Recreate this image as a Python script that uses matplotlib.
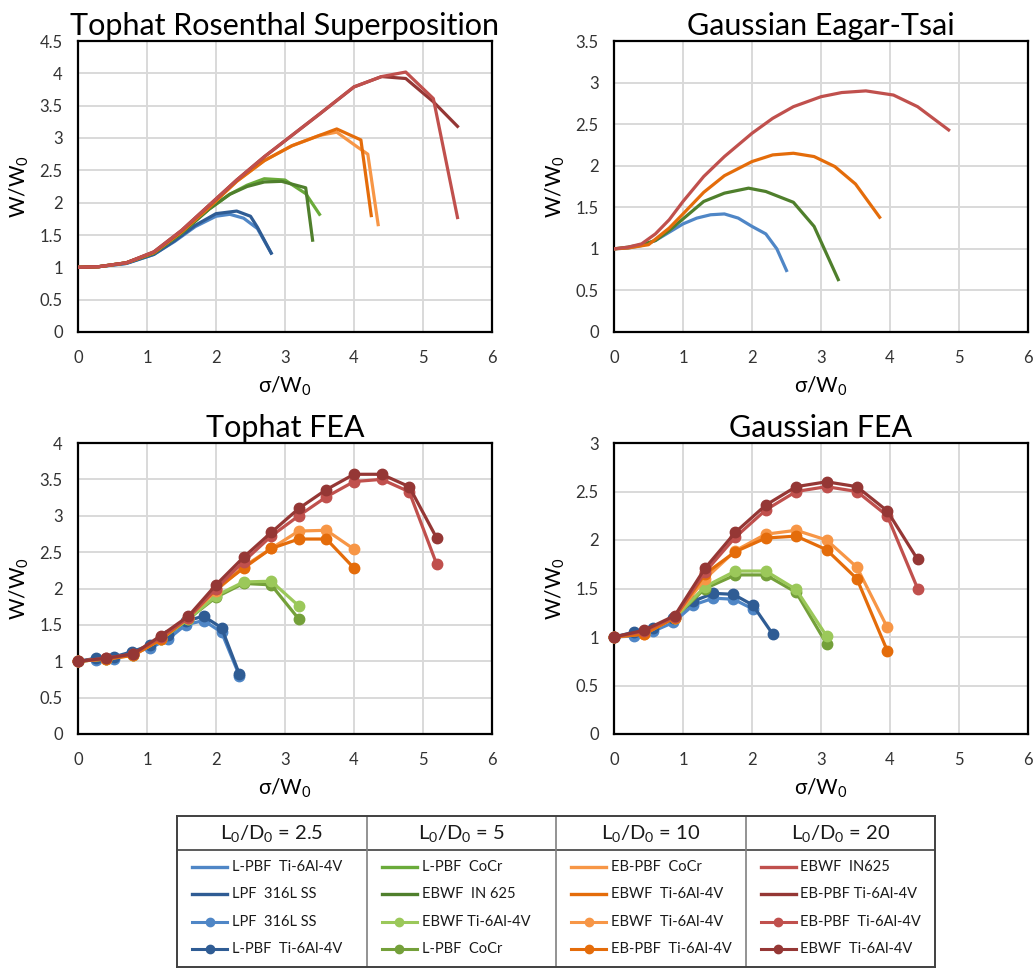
import numpy as np
import matplotlib
matplotlib.use('Agg')
import matplotlib.pyplot as plt
from matplotlib.ticker import MultipleLocator, FuncFormatter

plt.rcParams['font.family'] = ['Lato', 'DejaVu Sans']
plt.rcParams['mathtext.fontset'] = 'custom'
plt.rcParams['mathtext.rm'] = 'Lato'
plt.rcParams['mathtext.it'] = 'Lato'
plt.rcParams['mathtext.default'] = 'regular'

# %%
# colours (light / dark variant per L0/D0 group)
BLUE_L, BLUE_D = '#4F86C6', '#2F5C94'
GREEN_L, GREEN_D = '#6AAB3A', '#4F7F2C'
GREEN_LM, GREEN_DM = '#9BC85A', '#74A03A'
ORANGE_L, ORANGE_D = '#F79646', '#E46C0A'
RED_L, RED_D = '#C0504D', '#953735'

# %%
# Tophat Rosenthal Superposition (lines only)
tr_blue_l_x = [0, 0.3, 0.7, 1.1, 1.4, 1.7, 2.0, 2.2, 2.4, 2.6, 2.8]
tr_blue_l_y = [1.0, 1.01, 1.06, 1.2, 1.4, 1.63, 1.79, 1.82, 1.76, 1.6, 1.22]
tr_blue_d_x = [0, 0.3, 0.7, 1.1, 1.4, 1.7, 2.0, 2.3, 2.5, 2.6, 2.8]
tr_blue_d_y = [1.0, 1.01, 1.06, 1.2, 1.41, 1.65, 1.83, 1.87, 1.79, 1.62, 1.22]
tr_green_l_x = [0, 0.3, 0.7, 1.1, 1.5, 1.9, 2.2, 2.45, 2.7, 3.0, 3.3, 3.5]
tr_green_l_y = [1.0, 1.01, 1.07, 1.22, 1.53, 1.9, 2.13, 2.27, 2.37, 2.35, 2.14, 1.82]
tr_green_d_x = [0, 0.3, 0.7, 1.1, 1.5, 1.9, 2.2, 2.45, 2.7, 2.95, 3.3, 3.4]
tr_green_d_y = [1.0, 1.01, 1.07, 1.22, 1.53, 1.9, 2.13, 2.25, 2.32, 2.33, 2.23, 1.42]
tr_orange_l_x = [0, 0.3, 0.7, 1.1, 1.5, 1.9, 2.3, 2.7, 3.1, 3.5, 3.75, 4.05, 4.2, 4.35]
tr_orange_l_y = [1.0, 1.01, 1.07, 1.23, 1.55, 1.93, 2.33, 2.65, 2.88, 3.04, 3.09, 2.86, 2.75, 1.66]
tr_orange_d_x = [0, 0.3, 0.7, 1.1, 1.5, 1.9, 2.3, 2.7, 3.1, 3.5, 3.75, 4.1, 4.25]
tr_orange_d_y = [1.0, 1.01, 1.07, 1.23, 1.55, 1.93, 2.33, 2.65, 2.88, 3.04, 3.14, 2.97, 1.8]
tr_red_l_x = [0, 0.3, 0.7, 1.1, 1.5, 1.9, 2.3, 2.7, 3.1, 3.5, 4.0, 4.4, 4.75, 5.15, 5.5]
tr_red_l_y = [1.0, 1.01, 1.07, 1.24, 1.57, 1.96, 2.35, 2.71, 3.04, 3.37, 3.79, 3.95, 4.02, 3.61, 1.77]
tr_red_d_x = [0, 0.3, 0.7, 1.1, 1.5, 1.9, 2.3, 2.7, 3.1, 3.5, 4.0, 4.4, 4.75, 5.15, 5.5]
tr_red_d_y = [1.0, 1.01, 1.07, 1.24, 1.57, 1.96, 2.35, 2.71, 3.04, 3.37, 3.79, 3.95, 3.92, 3.56, 3.18]

# Gaussian Eagar-Tsai (lines only)
ge_blue_x = [0, 0.2, 0.4, 0.6, 0.8, 1.0, 1.2, 1.4, 1.6, 1.8, 2.0, 2.2, 2.36, 2.5]
ge_blue_y = [1.0, 1.01, 1.04, 1.1, 1.2, 1.3, 1.37, 1.41, 1.42, 1.37, 1.27, 1.18, 1.0, 0.74]
ge_green_x = [0, 0.2, 0.4, 0.6, 0.8, 1.0, 1.3, 1.6, 1.95, 2.2, 2.6, 2.9, 3.25]
ge_green_y = [1.0, 1.02, 1.05, 1.1, 1.22, 1.36, 1.57, 1.67, 1.73, 1.69, 1.56, 1.27, 0.63]
ge_orange_x = [0, 0.2, 0.5, 0.8, 1.0, 1.3, 1.6, 2.0, 2.3, 2.6, 2.9, 3.2, 3.5, 3.85]
ge_orange_y = [1.0, 1.01, 1.05, 1.25, 1.42, 1.68, 1.88, 2.05, 2.13, 2.15, 2.11, 1.99, 1.78, 1.38]
ge_red_x = [0, 0.2, 0.4, 0.6, 0.8, 1.0, 1.3, 1.6, 2.0, 2.3, 2.6, 3.0, 3.3, 3.65, 4.05, 4.4, 4.85]
ge_red_y = [1.0, 1.02, 1.06, 1.18, 1.35, 1.57, 1.87, 2.11, 2.39, 2.57, 2.71, 2.83, 2.88, 2.9, 2.85, 2.71, 2.43]

# Tophat FEA (markers)
tf_blue_x = [0, 0.26, 0.52, 0.78, 1.04, 1.3, 1.56, 1.82, 2.08, 2.34]
tf_blue_l_y = [1.0, 1.02, 1.03, 1.12, 1.18, 1.3, 1.5, 1.56, 1.4, 0.8]
tf_blue_d_y = [1.0, 1.04, 1.06, 1.13, 1.22, 1.36, 1.55, 1.62, 1.46, 0.82]
tf_green_x = [0, 0.4, 0.8, 1.2, 1.6, 2.0, 2.4, 2.8, 3.2]
tf_green_l_y = [1.0, 1.03, 1.09, 1.3, 1.58, 1.9, 2.09, 2.1, 1.76]
tf_green_d_y = [1.0, 1.03, 1.09, 1.3, 1.58, 1.88, 2.07, 2.05, 1.58]
tf_orange_x = [0, 0.4, 0.8, 1.2, 1.6, 2.0, 2.4, 2.8, 3.2, 3.6, 4.0]
tf_orange_l_y = [1.0, 1.03, 1.08, 1.3, 1.6, 1.97, 2.3, 2.55, 2.79, 2.8, 2.54]
tf_orange_d_y = [1.0, 1.03, 1.08, 1.3, 1.6, 1.99, 2.28, 2.55, 2.68, 2.68, 2.28]
tf_red_x = [0, 0.4, 0.8, 1.2, 1.6, 2.0, 2.4, 2.8, 3.2, 3.6, 4.0, 4.4, 4.8, 5.2]
tf_red_l_y = [1.0, 1.04, 1.1, 1.33, 1.6, 2.0, 2.37, 2.72, 3.0, 3.26, 3.47, 3.5, 3.33, 2.33]
tf_red_d_y = [1.0, 1.04, 1.1, 1.35, 1.62, 2.05, 2.43, 2.77, 3.1, 3.36, 3.57, 3.57, 3.4, 2.69]

# Gaussian FEA (markers)
gf_blue_l_x = [0, 0.29, 0.57, 0.86, 1.15, 1.44, 1.73, 2.01]
gf_blue_l_y = [1.0, 1.01, 1.06, 1.15, 1.33, 1.4, 1.39, 1.29]
gf_blue_d_x = [0, 0.29, 0.57, 0.86, 1.15, 1.44, 1.73, 2.01, 2.3]
gf_blue_d_y = [1.0, 1.05, 1.09, 1.2, 1.37, 1.45, 1.44, 1.33, 1.03]
gf_green_x = [0, 0.44, 0.88, 1.32, 1.76, 2.2, 2.64, 3.08]
gf_green_l_y = [1.0, 1.05, 1.2, 1.52, 1.68, 1.68, 1.49, 1.01]
gf_green_d_y = [1.0, 1.05, 1.2, 1.5, 1.64, 1.64, 1.46, 0.93]
gf_orange_x = [0, 0.44, 0.88, 1.32, 1.76, 2.2, 2.64, 3.08, 3.52, 3.96]
gf_orange_l_y = [1.0, 1.03, 1.2, 1.6, 1.89, 2.06, 2.1, 2.0, 1.72, 1.1]
gf_orange_d_y = [1.0, 1.03, 1.2, 1.65, 1.88, 2.02, 2.04, 1.9, 1.6, 0.86]
gf_red_x = [0, 0.44, 0.88, 1.32, 1.76, 2.2, 2.64, 3.08, 3.52, 3.96, 4.4]
gf_red_l_y = [1.0, 1.06, 1.21, 1.67, 2.03, 2.31, 2.5, 2.55, 2.5, 2.25, 1.5]
gf_red_d_y = [1.0, 1.07, 1.22, 1.71, 2.08, 2.36, 2.55, 2.6, 2.55, 2.3, 1.8]

# legend table
headers = ['L$_0$/D$_0$ = 2.5', 'L$_0$/D$_0$ = 5', 'L$_0$/D$_0$ = 10', 'L$_0$/D$_0$ = 20']
legend_labels = [
    ['L-PBF  Ti-6Al-4V', 'LPF  316L SS', 'LPF  316L SS', 'L-PBF  Ti-6Al-4V'],
    ['L-PBF  CoCr', 'EBWF  IN 625', 'EBWF Ti-6Al-4V', 'L-PBF  CoCr'],
    ['EB-PBF  CoCr', 'EBWF  Ti-6Al-4V', 'EBWF  Ti-6Al-4V', 'EB-PBF  Ti-6Al-4V'],
    ['EBWF  IN625', 'EB-PBF Ti-6Al-4V', 'EB-PBF  Ti-6Al-4V', 'EBWF  Ti-6Al-4V'],
]
legend_colors = [
    [BLUE_L, BLUE_D, BLUE_L, BLUE_D],
    [GREEN_L, GREEN_D, GREEN_LM, GREEN_DM],
    [ORANGE_L, ORANGE_D, ORANGE_L, ORANGE_D],
    [RED_L, RED_D, RED_L, RED_D],
]
legend_marker = [False, False, True, True]

# %%
W, H = 1034, 969
fig = plt.figure(figsize=(W / 100, H / 100), dpi=100)

def make_axes(left, top, ymax, title):
    ax = fig.add_axes([left / W, 1 - (top + 291) / H, 414 / W, 291 / H])
    ax.set_xlim(0, 6)
    ax.set_ylim(0, ymax)
    ax.xaxis.set_major_locator(MultipleLocator(1))
    ax.yaxis.set_major_locator(MultipleLocator(0.5))
    ax.yaxis.set_major_formatter(FuncFormatter(lambda v, p: f'{v:g}'))
    ax.xaxis.set_major_formatter(FuncFormatter(lambda v, p: f'{v:g}'))
    ax.grid(True, color='#D9D9D9', lw=1.4)
    ax.set_axisbelow(True)
    ax.tick_params(length=0, labelsize=12, colors='#333333')
    ax.tick_params(axis='x', pad=13)
    ax.tick_params(axis='y', pad=11)
    for s in ax.spines.values():
        s.set_linewidth(1.6)
        s.set_color('black')
        s.set_zorder(1)
    ax.set_title(title, fontsize=22, pad=4)
    ax.set_xlabel('σ/W$_0$', fontsize=15, labelpad=6)
    ax.set_ylabel('W/W$_0$', fontsize=15, labelpad=6)
    return ax

LW = 2.3
MS = 7.5
mk = dict(lw=LW, marker='o', ms=MS, clip_on=False, zorder=3)

ax1 = make_axes(78, 41, 4.5, 'Tophat Rosenthal Superposition')
ax1.plot(tr_blue_l_x, tr_blue_l_y, color=BLUE_L, lw=LW)
ax1.plot(tr_blue_d_x, tr_blue_d_y, color=BLUE_D, lw=LW)
ax1.plot(tr_green_l_x, tr_green_l_y, color=GREEN_L, lw=LW)
ax1.plot(tr_green_d_x, tr_green_d_y, color=GREEN_D, lw=LW)
ax1.plot(tr_orange_l_x, tr_orange_l_y, color=ORANGE_L, lw=LW)
ax1.plot(tr_orange_d_x, tr_orange_d_y, color=ORANGE_D, lw=LW)
ax1.plot(tr_red_d_x, tr_red_d_y, color=RED_D, lw=LW)
ax1.plot(tr_red_l_x, tr_red_l_y, color=RED_L, lw=LW)

ax2 = make_axes(614, 41, 3.5, 'Gaussian Eagar-Tsai')
ax2.plot(ge_blue_x, ge_blue_y, color=BLUE_L, lw=LW)
ax2.plot(ge_green_x, ge_green_y, color=GREEN_D, lw=LW)
ax2.plot(ge_orange_x, ge_orange_y, color=ORANGE_D, lw=LW)
ax2.plot(ge_red_x, ge_red_y, color=RED_L, lw=LW)

ax3 = make_axes(78, 443, 4, 'Tophat FEA')
ax3.plot(tf_blue_x, tf_blue_l_y, color=BLUE_L, **mk)
ax3.plot(tf_blue_x, tf_blue_d_y, color=BLUE_D, **mk)
ax3.plot(tf_green_x, tf_green_d_y, color=GREEN_DM, **mk)
ax3.plot(tf_green_x, tf_green_l_y, color=GREEN_LM, **mk)
ax3.plot(tf_orange_x, tf_orange_l_y, color=ORANGE_L, **mk)
ax3.plot(tf_orange_x, tf_orange_d_y, color=ORANGE_D, **mk)
ax3.plot(tf_red_x, tf_red_l_y, color=RED_L, **mk)
ax3.plot(tf_red_x, tf_red_d_y, color=RED_D, **mk)

ax4 = make_axes(614, 443, 3, 'Gaussian FEA')
ax4.plot(gf_blue_l_x, gf_blue_l_y, color=BLUE_L, **mk)
ax4.plot(gf_blue_d_x, gf_blue_d_y, color=BLUE_D, **mk)
ax4.plot(gf_green_x, gf_green_d_y, color=GREEN_DM, **mk)
ax4.plot(gf_green_x, gf_green_l_y, color=GREEN_LM, **mk)
ax4.plot(gf_orange_x, gf_orange_l_y, color=ORANGE_L, **mk)
ax4.plot(gf_orange_x, gf_orange_d_y, color=ORANGE_D, **mk)
ax4.plot(gf_red_x, gf_red_l_y, color=RED_L, **mk)
ax4.plot(gf_red_x, gf_red_d_y, color=RED_D, **mk)

# %%
# Legend drawn as a table: one column per L0/D0 group
TW, TH = 758, 151
tab = fig.add_axes([177 / W, 1 - 967 / H, TW / W, TH / H])
tab.set_xlim(0, TW)
tab.set_ylim(TH, 0)
tab.set_xticks([])
tab.set_yticks([])
for s in tab.spines.values():
    s.set_linewidth(1.4)
    s.set_color('#404040')
cw = TW / 4
tab.axhline(34, color='#404040', lw=1.2)
for c in range(4):
    x0 = c * cw
    if c > 0:
        tab.axvline(x0, color='#808080', lw=1.2)
    tab.text(x0 + cw / 2, 17, headers[c], ha='center', va='center', fontsize=14.5, color='#1a1a1a')
    for r in range(4):
        y = 51 + 27.3 * r
        col = legend_colors[c][r]
        if legend_marker[r]:
            tab.plot([x0 + 15, x0 + 32.5, x0 + 50], [y, y, y], color=col, lw=2.2,
                     marker='o', ms=6, markevery=[1])
        else:
            tab.plot([x0 + 15, x0 + 50], [y, y], color=col, lw=2.4)
        tab.text(x0 + 55, y, legend_labels[c][r], ha='left', va='center', fontsize=10.5, color='#1a1a1a')

fig.savefig('out.png', dpi=100)
